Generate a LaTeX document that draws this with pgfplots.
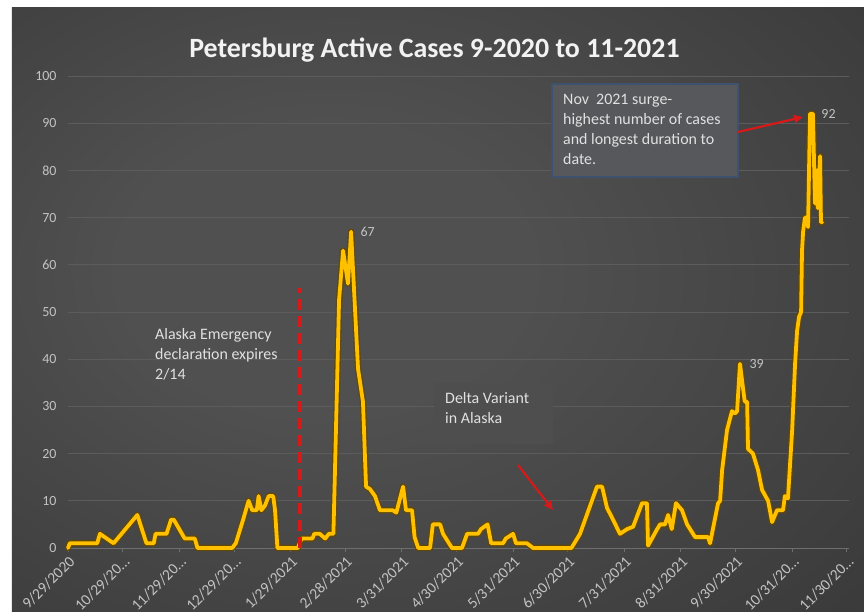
\documentclass[border=0pt]{standalone}
\usepackage{fontspec}
\setmainfont{Carlito}
\usepackage{pgfplots}
\usepackage{pgfplotstable}
\pgfplotsset{compat=1.18}
\usetikzlibrary{arrows.meta}

\definecolor{bgin}{RGB}{80,80,80}
\definecolor{bgout}{RGB}{32,32,32}
\definecolor{gold}{RGB}{255,192,0}
\definecolor{golddark}{RGB}{100,72,0}
\definecolor{gridc}{RGB}{92,92,92}
\definecolor{axisc}{RGB}{110,110,110}
\definecolor{tickc}{RGB}{195,195,195}
\definecolor{titlec}{RGB}{242,242,242}
\definecolor{annc}{RGB}{225,225,225}
\definecolor{redc}{RGB}{215,25,25}
\definecolor{boxfill}{RGB}{86,88,92}
\definecolor{boxdraw}{RGB}{62,82,112}
\definecolor{boxtwo}{RGB}{78,78,78}

\pgfdeclareradialshading{bgshade}{\pgfpoint{-8bp}{4bp}}{color(0bp)=(bgin); color(12bp)=(bgin); color(72bp)=(bgout)}

\pgfplotstableread{
day cases
0 0
1 1
16 1
17.5 3
25 1
38 7
43 1
47 1
48 3
54 3
56.5 6
58 6
64 2
69.5 2
71 0
90 0
92 1
96 6
99 10
101 8
103.5 8
104.5 11
106 8
108 9
109 10
110 11
112.5 11
113.5 8
114.8 0
126 0
128 2
134 2
135 3
138 3
141 2
143 3
145.5 3
146.4 17
148.6 52.5
150.8 63
153.5 56
155.2 67
159 38
161.7 31
163.4 13
165.5 12.5
168.3 11
171 8
178 8
180 7.5
183.7 13
185.3 8
188.6 8
190 2.3
192 0
198.5 0
200 5
204 5
205.6 3
210.5 0
216 0
218.8 3
224.8 3
226.4 4
230 5
232 1
238.5 1
240 2
244 3
245.6 1
251.6 1
255 0
276 0
280.7 3
286 8.7
290 13
292.8 13
295.5 8.5
298.8 6
302.6 3
306.5 4
309.8 4.5
314.7 9.5
317.4 9.5
318 0.5
323 4
324.6 5
327.3 5
329 7
331 4
333.3 9.5
336.6 8
339.4 5
343.8 2.3
350.9 2.3
352 1
356.4 9.5
357.5 10
358.6 16.5
361.3 25
364 29
365.7 28.5
366.8 29
368.4 39
371 31
372.3 31
372.8 21
375.5 20
378.3 16.5
380.5 12.3
383.8 10
386 5.5
388.7 8
392 8
393 11
394.7 10.5
397 25
398.6 39
399.7 46
400.8 49
401.9 50
402.4 63
403 67
404 70
405 70
405.7 68
406.8 92
408.4 92
409.5 73
410.6 80
411 72
412.3 83
412.8 69
413.4 69
}\casedata

\begin{document}
\begin{tikzpicture}
% page and background
\fill[white] (-68bp,-64bp) rectangle (796bp,548bp);
\shade[shading=bgshade] (-56bp,-64bp) rectangle (796bp,540bp);

\begin{axis}[
  scale only axis,
  width=780.7bp, height=472bp,
  xmin=0, xmax=428, ymin=0, ymax=100,
  clip=false,
  axis x line*=bottom, axis y line*=left,
  y axis line style={draw=none},
  x axis line style={draw=axisc, line width=0.8bp},
  ytick={0,10,...,100},
  ytick style={draw=none},
  xtick={0,30,61,91,122,152,183,213,244,274,305,336,366,397,427},
  xticklabels={9/29/2020,{10/29/20\ldots},{11/29/20\ldots},{12/29/20\ldots},1/29/2021,2/28/2021,3/31/2021,4/30/2021,5/31/2021,6/30/2021,7/31/2021,8/31/2021,9/30/2021,{10/31/20\ldots},{11/30/20\ldots}},
  tick align=outside,
  major tick length=4bp,
  xtick style={draw=axisc, line width=0.8bp},
  ymajorgrids,
  grid style={draw=gridc, line width=0.8bp},
  /pgf/number format/assume math mode=true,
  yticklabel style={font=\fontsize{14}{14}\selectfont, text=tickc, xshift=-4bp},
  xticklabel style={font=\fontsize{15.5}{15.5}\selectfont, text=tickc, rotate=45, anchor=north east, inner sep=2bp},
]
\addplot[golddark, line width=6.5bp, line join=round, line cap=round, opacity=0.85] table[x=day,y=cases] {\casedata};
\addplot[gold, line width=3.8bp, line join=round, line cap=round] table[x=day,y=cases] {\casedata};
\addplot[redc, line width=4bp, dash pattern=on 11bp off 6bp] coordinates {(127,0) (127,55)};

\node[anchor=west, text=tickc, font=\fontsize{14}{14}\selectfont] at (axis cs:155.2,67) {\hspace{6bp}67};
\node[anchor=west, text=tickc, font=\fontsize{14}{14}\selectfont] at (axis cs:368.4,39) {\hspace{6bp}39};
\node[anchor=west, text=tickc, font=\fontsize{14}{14}\selectfont] at (axis cs:408.4,92) {\hspace{5bp}92};
\end{axis}

% title
\node[font=\bfseries\fontsize{28}{28}\selectfont, text=titlec] at (366.5bp,498bp) {Petersburg Active Cases 9-2020 to 11-2021};

% emergency text
\node[anchor=north west, align=left, inner sep=0pt, font=\fontsize{16}{20}\selectfont, text=annc] at (87bp,220bp) {Alaska Emergency\\declaration expires\\2/14};

% delta box
\fill[boxtwo] (366bp,104bp) rectangle (485bp,165bp);
\node[anchor=north west, align=left, inner sep=0pt, font=\fontsize{16}{20}\selectfont, text=annc] at (377bp,156bp) {Delta Variant\\in Alaska};
\draw[redc, line width=2.2bp, -{Triangle[length=9bp,width=8bp]}] (450bp,83bp) -- (485bp,38bp);

% nov box
\filldraw[fill=boxfill, draw=boxdraw, line width=1.5bp] (484bp,371bp) rectangle (670bp,464bp);
\node[anchor=north west, align=left, inner sep=0pt, font=\fontsize{16}{20}\selectfont, text=annc] at (495bp,454bp) {Nov~~2021 surge-\\highest number of cases\\and longest duration to\\date.};
\draw[redc, line width=2.2bp, -{Triangle[length=9bp,width=8bp]}] (670bp,416bp) -- (735bp,431bp);
\end{tikzpicture}
\end{document}
